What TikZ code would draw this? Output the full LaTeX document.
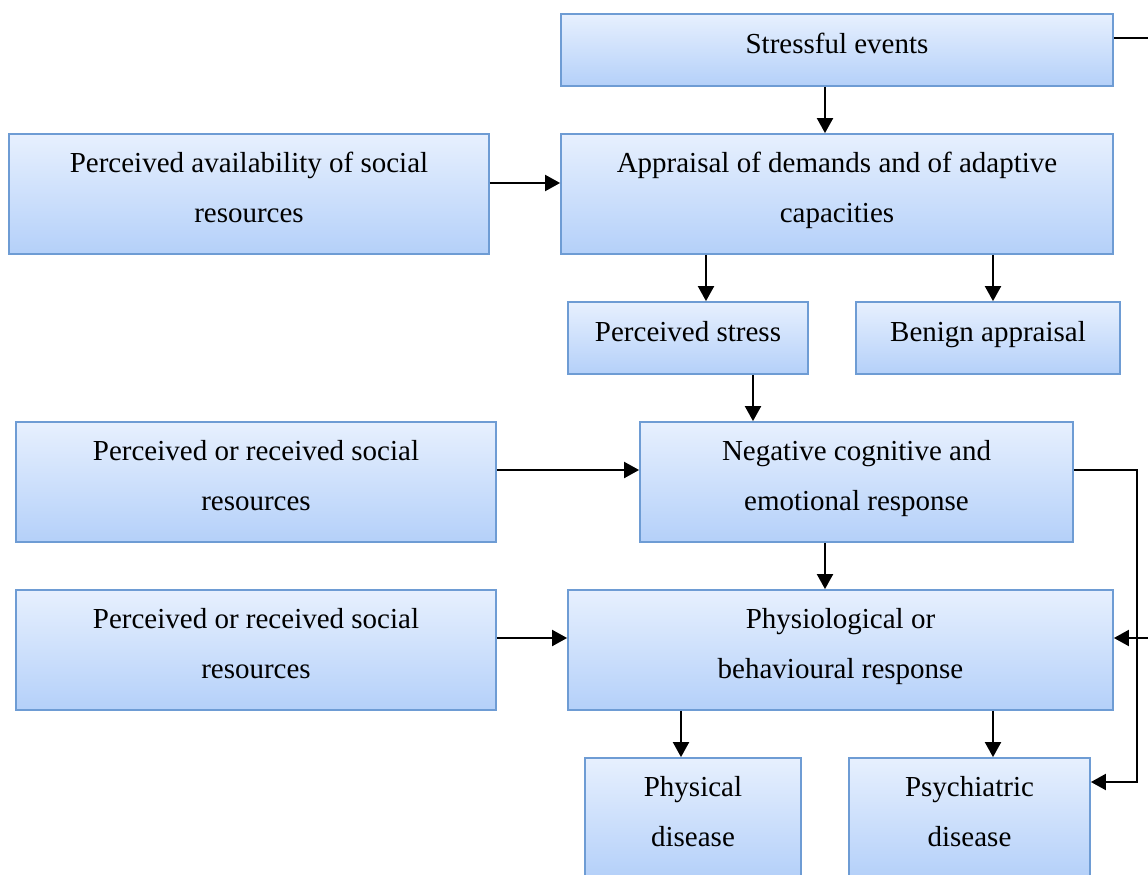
\documentclass[tikz,border=0pt]{standalone}
\usepackage{fontspec}
\setmainfont{Liberation Serif}
\usetikzlibrary{arrows.meta}
\definecolor{boxtop}{RGB}{231,240,254}
\definecolor{boxbot}{RGB}{180,208,249}
\definecolor{boxline}{RGB}{110,156,212}
\begin{document}
\begin{tikzpicture}[x=1pt,y=-1pt,
  box/.style={draw=boxline, line width=1.8pt, top color=boxtop, bottom color=boxbot,
              inner sep=0pt, align=center, text depth=14pt,
              font=\fontsize{29}{50}\selectfont},
  link/.style={line width=2pt, -{Triangle[length=15pt,width=16pt]}},
  wire/.style={line width=2pt}]
\useasboundingbox (0,0) rectangle (1148,875);

% boxes
\node[box, minimum width=552pt, minimum height=72pt]  (se) at (837,50)    {Stressful events};
\node[box, minimum width=552pt, minimum height=120pt] (ap) at (837,194)   {Appraisal of demands and of adaptive\\capacities};
\node[box, minimum width=480pt, minimum height=120pt] (pa) at (249,194)   {Perceived availability of social\\resources};
\node[box, minimum width=240pt, minimum height=72pt]  (ps) at (688,338)   {Perceived stress};
\node[box, minimum width=264pt, minimum height=72pt]  (ba) at (988,338)   {Benign appraisal};
\node[box, minimum width=480pt, minimum height=120pt] (r1) at (256,482)   {Perceived or received social\\resources};
\node[box, minimum width=433pt, minimum height=120pt] (ne) at (856.5,482) {Negative cognitive and\\emotional response};
\node[box, minimum width=480pt, minimum height=120pt] (r2) at (256,650)   {Perceived or received social\\resources};
\node[box, minimum width=545pt, minimum height=120pt] (ph) at (840.5,650) {Physiological or\\behavioural response};
\node[box, minimum width=216pt, minimum height=120pt] (pd) at (693,818)   {Physical\\disease};
\node[box, minimum width=241pt, minimum height=120pt] (py) at (969.5,818) {Psychiatric\\disease};

% free ends beyond the right margin
\coordinate (outA) at (1165,38);
\coordinate (inB)  at (1165,638);
\coordinate (bend) at (1137,782);

% connectors
\draw[link] (se.south -| 825,0) -- (ap.north -| 825,0);
\draw[link] (pa.east |- 0,183) -- (ap.west |- 0,183);
\draw[link] (ap.south -| 706,0) -- (ps.north -| 706,0);
\draw[link] (ap.south -| 993,0) -- (ba.north -| 993,0);
\draw[link] (ps.south -| 753,0) -- (ne.north -| 753,0);
\draw[link] (r1.east |- 0,470) -- (ne.west |- 0,470);
\draw[link] (ne.south -| 825,0) -- (ph.north -| 825,0);
\draw[link] (r2.east |- 0,638) -- (ph.west |- 0,638);
\draw[link] (ph.south -| 681,0) -- (pd.north -| 681,0);
\draw[link] (ph.south -| 993,0) -- (py.north -| 993,0);
\draw[link] (ne.east |- 0,470) -| (bend) -- (py.east |- bend);
\draw[wire] (se.east |- 0,38) -- (outA);
\draw[link] (inB) -- (ph.east |- inB);
\end{tikzpicture}
\end{document}
